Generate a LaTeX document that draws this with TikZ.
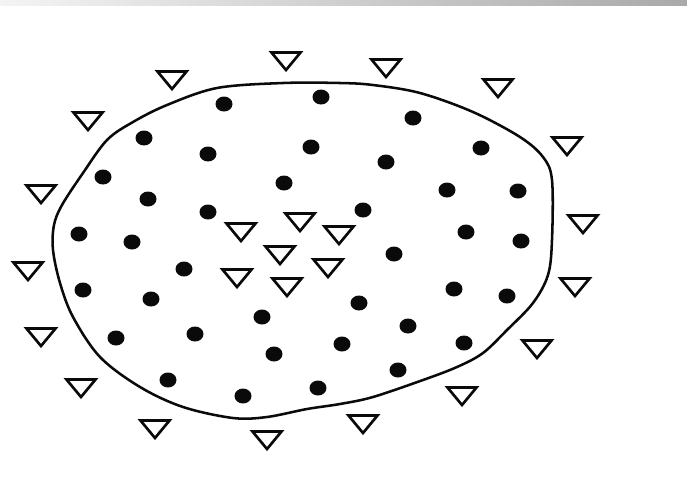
\documentclass[tikz,border=0pt]{standalone}
\usepackage{tikz}
\usetikzlibrary{calc}
\definecolor{barlight}{HTML}{F4F4F4}
\definecolor{bardark}{HTML}{A9A9A9}
\definecolor{ink}{HTML}{0A0A0A}
\tikzset{
  rim/.style={draw=ink, line width=1.9pt, line join=round},
  sdot/.style={fill=ink},
  otri/.style={draw=ink, fill=white, line width=2pt, line join=miter},
}

\begin{document}
\begin{tikzpicture}[x=0.75pt, y=-0.75pt]

  %% Canvas and top bar
  \useasboundingbox (0,0) rectangle (687,487);
  \fill[white] (0,0) rectangle (687,487);
  \shade[left color=barlight, right color=bardark] (0,0) rectangle (687,5);

  %% Closed boundary
  \draw[rim] plot[smooth cycle, tension=0.55] coordinates {
    (283,83) (340,83) (373,85) (420,93) (473,112) (520,137) (543,157)
    (552,180) (552,240) (548,275) (533,303) (507,330) (483,353)
    (457,367) (423,380) (373,397) (340,404) (307,409) (267,417)
    (233,418) (183,407) (140,387) (100,357) (73,317) (60,283)
    (53,250) (54,225) (62,205) (83,173) (107,140) (133,122)
    (167,105) (217,88)};

  %% Filled points inside
  \foreach \x/\y in {224/104, 321/97, 413/118, 144/138, 208/154, 311/147,
      386/162, 481/148, 103/177, 284/183, 447/190, 518/191, 148/199,
      208/212, 363/210, 79/234, 132/242, 466/232, 521/241, 184/269,
      394/254, 83/290, 151/299, 454/289, 507/296, 359/303, 262/317,
      195/334, 408/326, 116/338, 342/344, 464/343, 274/354, 398/370,
      168/380, 318/388, 243/396}{
    \fill[sdot] (\x,\y) circle [x radius=8.5, y radius=7.5];
  }

  %% Open triangles: centre group and outer ring
  \foreach \x/\y in {241/232, 300/222, 339/235, 280/255, 328/268,
      237/278, 287/287,
      172/80, 286/61, 386/68, 498/88, 88/121, 567/146, 41/194,
      583/224, 28/271, 575/287, 41/337, 537/349, 81/388, 462/396,
      155/429, 363/424, 267/440}{
    \draw[otri] (\x-14.5,\y-8.5) -- (\x+14.5,\y-8.5) -- (\x,\y+9) -- cycle;
  }

\end{tikzpicture}
\end{document}
